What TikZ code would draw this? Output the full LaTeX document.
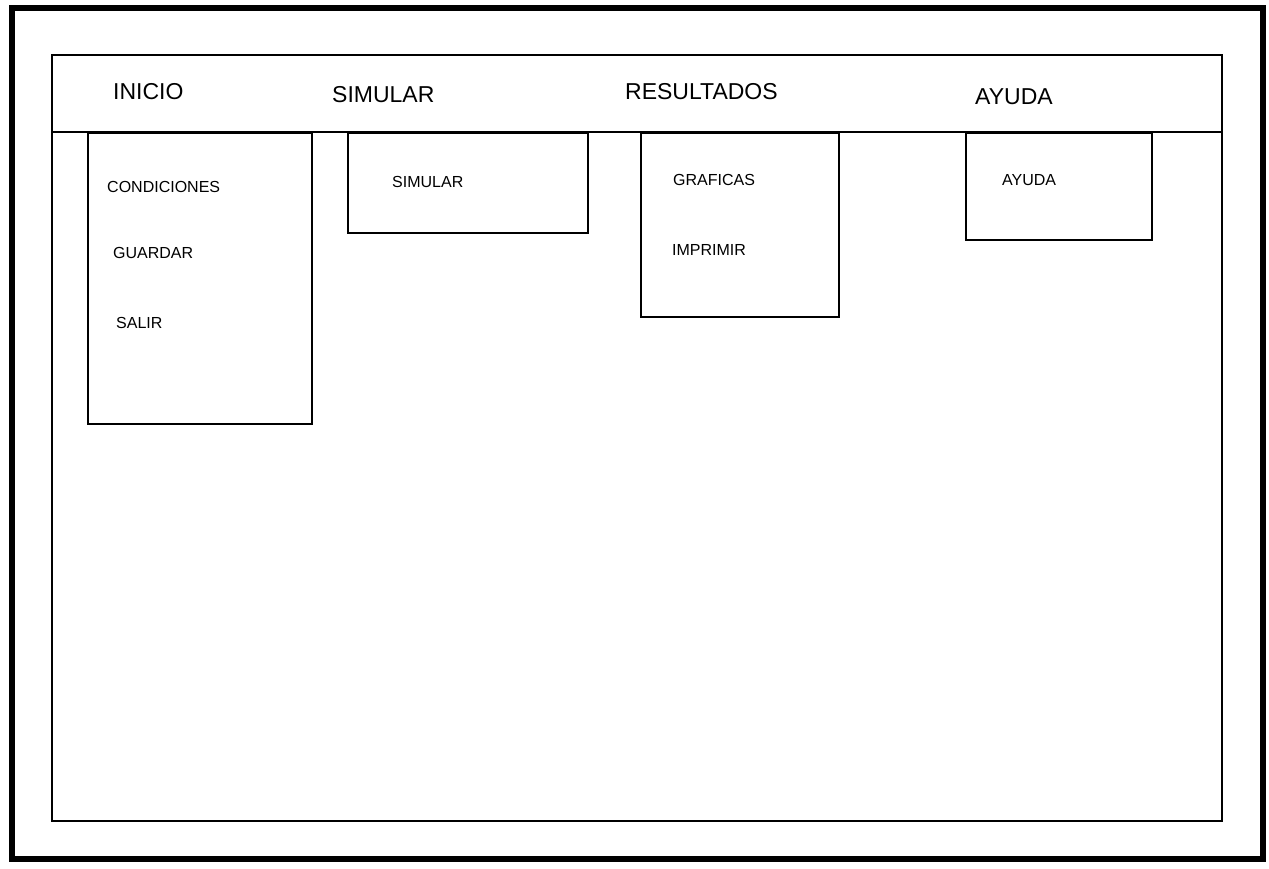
\documentclass[tikz,border=0pt]{standalone}
\usepackage{fontspec}
\setmainfont{Liberation Sans}
\begin{document}
\begin{tikzpicture}[x=1pt,y=-1pt,
  frame/.style={draw, line width=1.8pt},
  menubox/.style={draw, line width=1.8pt, rectangle, anchor=north west, inner sep=0pt},
  menulabel/.style={anchor=west, font=\fontsize{23}{27}\selectfont, inner sep=0pt},
  sublabel/.style={anchor=west, font=\fontsize{16}{19}\selectfont, inner sep=0pt}]
\useasboundingbox (0,0) rectangle (1269,868);
\draw[line width=6pt] (12,8) rectangle (1263,859);
\node[menubox, minimum width=1170pt, minimum height=766pt] (win) at (51,54) {};
\coordinate (barL) at (51,132);
\coordinate (barR) at (1221,132);
\draw[frame] (barL) -- (barR);
% drop-down boxes
\node[menubox, minimum width=224pt, minimum height=291pt] (inicioBox) at (87,132) {};
\node[menubox, minimum width=240pt, minimum height=100pt] (simBox) at (347,132) {};
\node[menubox, minimum width=198pt, minimum height=184pt] (resBox) at (640,132) {};
\node[menubox, minimum width=186pt, minimum height=107pt] (ayuBox) at (965,132) {};
% menu labels
\node[menulabel] (mInicio) at (113,92) {INICIO};
\node[menulabel] (mSimular) at (332,95) {SIMULAR};
\node[menulabel] (mRes) at (625,92) {RESULTADOS};
\node[menulabel] (mAyuda) at (975,97) {AYUDA};
% submenu labels
\node[sublabel] (sCond) at (107,187) {CONDICIONES};
\node[sublabel] (sGuardar) at (113,253) {GUARDAR};
\node[sublabel] (sSalir) at (116,323) {SALIR};
\node[sublabel] (sSimular) at (392,182) {SIMULAR};
\node[sublabel] (sGraf) at (673,180) {GRAFICAS};
\node[sublabel] (sImpr) at (672,250) {IMPRIMIR};
\node[sublabel] (sAyuda) at (1002,180) {AYUDA};
\end{tikzpicture}
\end{document}
